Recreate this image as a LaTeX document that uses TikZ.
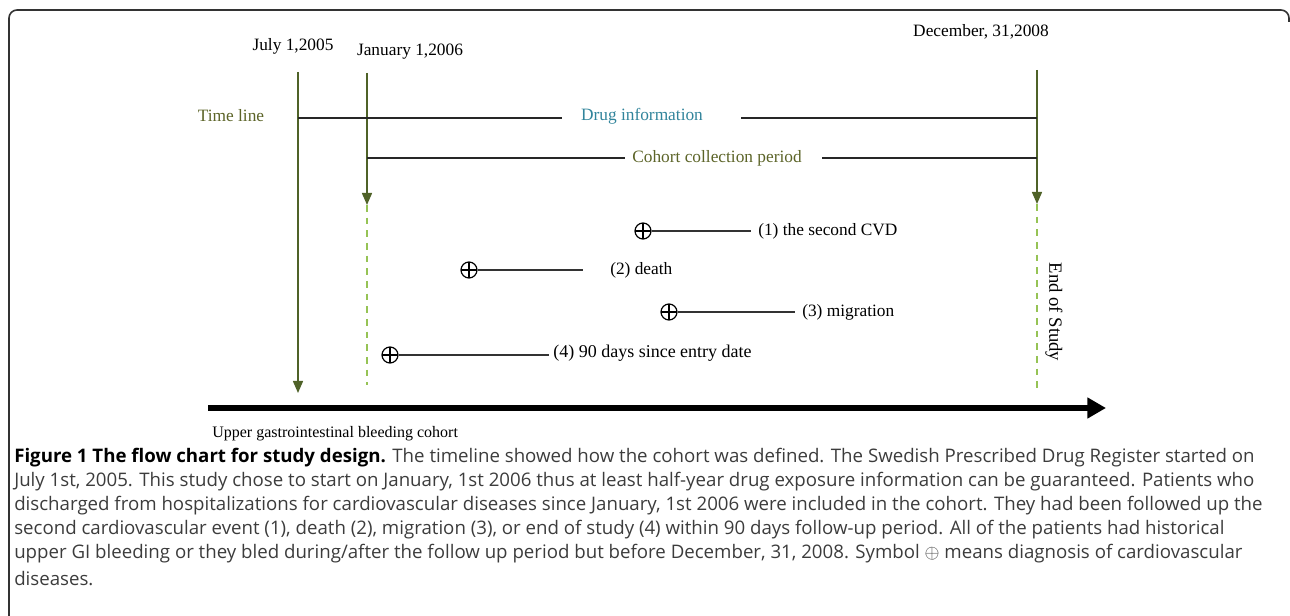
\documentclass[tikz,border=0pt]{standalone}
\usepackage{fontspec}
\setmainfont{Liberation Serif}
\newfontfamily\capfont{Open Sans}
\usetikzlibrary{arrows.meta}
\usetikzlibrary{positioning}
\definecolor{olivedk}{RGB}{79,98,40}
\definecolor{greendash}{RGB}{150,195,85}
\definecolor{drugblue}{RGB}{49,132,155}
\definecolor{olivetxt}{RGB}{92,100,40}
\definecolor{capgray}{RGB}{60,60,60}

\begin{document}
\begin{tikzpicture}[x=0.75pt,y=-0.75pt,
  lbl/.style={font=\fontsize{13}{15}\selectfont, inner sep=0pt},
  vline/.style={olivedk, line width=1.1pt, -{Triangle[width=7.5pt,length=9pt]}},
  dashln/.style={greendash, line width=1.7pt, dash pattern=on 5pt off 4.5pt},
  tline/.style={black!85, line width=1.4pt},
  evline/.style={black!80, line width=0.9pt},
  oplus/.style={circle, draw, line width=0.9pt, minimum size=12pt, inner sep=0pt,
    path picture={\draw[line width=0.9pt] (path picture bounding box.north) -- (path picture bounding box.south)
      (path picture bounding box.west) -- (path picture bounding box.east);}},
  capt/.style={font=\capfont\fontsize{14}{16}\selectfont, text=capgray, anchor=west, inner sep=0pt}]
\useasboundingbox (0,0) rectangle (1290,616);
% frame
\draw[line width=1.2pt, black!80, rounded corners=6pt] (9,616) -- (9,10) -- (1289,10) -- (1289,22);

% dates
\node[lbl] (jul) at (293,46) {July 1,2005};
\node[lbl] (jan) at (410,52) {January 1,2006};
\node[lbl] (dec) at (981,32) {December, 31,2008};
\coordinate (julT) at (298,72);
\coordinate (julB) at (298,393);
\coordinate (janT) at (367,73);
\coordinate (janM) at (367,205);
\coordinate (janB) at (367,385);
\coordinate (decT) at (1037,70);
\coordinate (decM) at (1037,204);
\coordinate (decB) at (1037,388);
\draw[vline] (julT) -- (julB);
\draw[vline] (janT) -- (janM);
\draw[vline] (decT) -- (decM);
\draw[dashln] (janM) -- (janB);
\draw[dashln] (decM) -- (decB);

% time line
\node[lbl, text=olivetxt] (tl) at (231,116) {Time line};
\node[lbl, text=drugblue] (drug) at (642,116) {Drug information};
\coordinate (drugS) at (298,118);
\coordinate (drugL) at (562,118);
\coordinate (drugR) at (741,118);
\coordinate (drugE) at (1037,118);
\draw[tline] (drugS) -- (drugL);
\draw[tline] (drugR) -- (drugE);
\node[lbl, text=olivetxt] (coh) at (717,158) {Cohort collection period};
\coordinate (cohS) at (367,158);
\coordinate (cohL) at (625,158);
\coordinate (cohR) at (822,158);
\coordinate (cohE) at (1037,158);
\draw[tline] (cohS) -- (cohL);
\draw[tline] (cohR) -- (cohE);

% events
\node[oplus] (c1) at (643,231) {};
\coordinate (e1) at (751,231);
\draw[evline] (c1) -- (e1);
\node[lbl, anchor=west] (t1) at (758,231) {(1) the second CVD};
\node[oplus] (c2) at (469,270) {};
\coordinate (e2) at (583,270);
\draw[evline] (c2) -- (e2);
\node[lbl, anchor=west] (t2) at (610,270) {(2) death};
\node[oplus] (c3) at (669,312) {};
\coordinate (e3) at (795,312);
\draw[evline] (c3) -- (e3);
\node[lbl, anchor=west] (t3) at (802,312) {(3) migration};
\node[oplus] (c4) at (390,355) {};
\coordinate (e4) at (549,355);
\draw[evline] (c4) -- (e4);
\node[lbl, anchor=west, font=\fontsize{13.5}{15}\selectfont] (t4) at (553,353) {(4) 90 days since entry date};
\node[lbl, rotate=-90, font=\fontsize{14}{16}\selectfont] (eos) at (1054,312) {End of Study};

% cohort arrow
\coordinate (arrS) at (208,408);
\coordinate (arrE) at (1106,408);
\draw[line width=5.2pt, -{Triangle[width=15pt,length=14pt]}] (arrS) -- (arrE);
\node[lbl, anchor=west, font=\fontsize{12}{14}\selectfont] (ugib) at (212,434) {Upper gastrointestinal bleeding cohort};

% caption
\node[capt] (cap1) at (14,458) {{\color{black}\bfseries Figure 1 The flow chart for study design.} The timeline showed how the cohort was defined. The Swedish Prescribed Drug Register started on};
\node[capt] (cap2) at (14,482) {July 1st, 2005. This study chose to start on January, 1st 2006 thus at least half-year drug exposure information can be guaranteed. Patients who};
\node[capt] (cap3) at (14,506) {discharged from hospitalizations for cardiovascular diseases since January, 1st 2006 were included in the cohort. They had been followed up the};
\node[capt] (cap4) at (14,530) {second cardiovascular event (1), death (2), migration (3), or end of study (4) within 90 days follow-up period. All of the patients had historical};
\node[capt] (cap5) at (14,554) {upper GI bleeding or they bled during/after the follow up period but before December, 31, 2008. Symbol $\oplus$ means diagnosis of cardiovascular};
\node[capt] (cap6) at (14,579) {diseases.};
\end{tikzpicture}
\end{document}
